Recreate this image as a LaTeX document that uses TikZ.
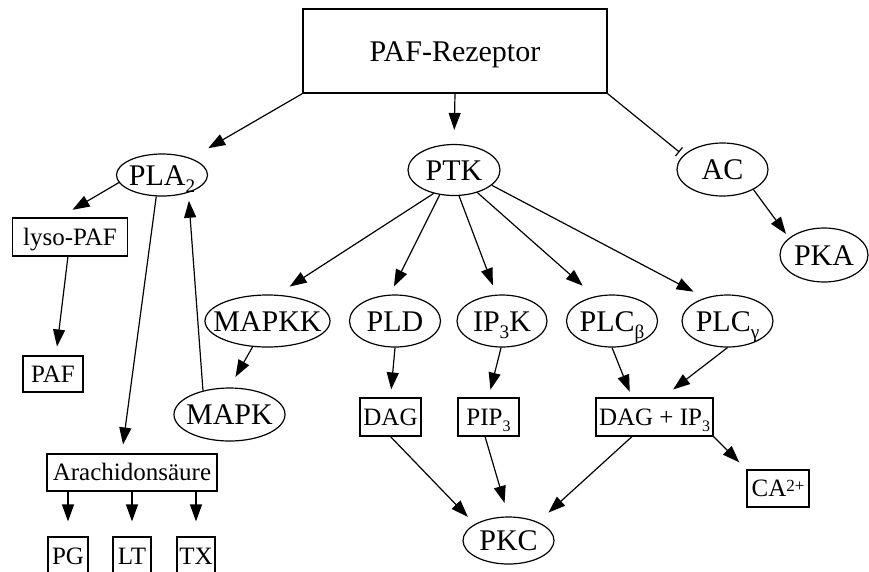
\documentclass[tikz,border=0pt]{standalone}
\usepackage{fontspec}
\setmainfont{Liberation Serif}
\usetikzlibrary{shapes.geometric,arrows.meta}

% lowered and raised indices set from the surrounding text font
\newcommand\lsub[1]{\raisebox{-0.25em}{\scalebox{0.64}{#1}}}
\newcommand\usup[1]{\raisebox{0.22em}{\scalebox{0.68}{#1}}}
% zero-width label so the ellipse keeps its own size
\newcommand\ztext[1]{\makebox[0pt]{#1}}

\tikzset{
  ell/.style={ellipse, draw, line width=1.2pt, inner sep=0pt,
    font=\fontsize{30}{36}\selectfont, text height=20pt, text depth=0pt},
  box/.style={rectangle, draw, line width=1.2pt, inner sep=0pt,
    font=\fontsize{25}{30}\selectfont, text height=16.5pt, text depth=0pt},
  edge/.style={line width=1.2pt, -{Triangle[length=17pt,width=12pt]}},
  inhib/.style={line width=1.2pt, -{Bar[width=11pt]}},
}

\begin{document}
\begin{tikzpicture}[x=1pt,y=-1pt]
\useasboundingbox (0,0) rectangle (869,571);
\clip (0,0) rectangle (869,571);

% receptor
\node[box, font=\fontsize{30}{36}\selectfont, text height=20pt,
      minimum width=304pt, minimum height=84pt] (rez) at (455,51) {PAF-Rezeptor};

% first level
\node[ell, minimum width=91pt, minimum height=42pt] (pla2) at (162,175) {\ztext{PLA\lsub{2}}};
\node[ell, minimum width=92pt, minimum height=51pt] (ptk) at (454,170) {\ztext{PTK}};
\node[ell, minimum width=91pt, minimum height=53pt] (ac) at (722.5,169.5) {\ztext{AC}};
\node[ell, minimum width=88pt, minimum height=54pt] (pka) at (824,255) {\ztext{PKA}};

% phospholipase A2 branch
\node[box, minimum width=115pt, minimum height=38pt] (lyso) at (70,237) {lyso-PAF};
\node[box, minimum width=60pt, minimum height=36pt] (paf) at (53,374) {PAF};
\node[ell, minimum width=111pt, minimum height=53pt] (mapk) at (229.5,414.5) {\ztext{MAPK}};
\node[box, minimum width=170pt, minimum height=37pt] (arach) at (132,472.5) {Arachidonsäure};
\node[box, minimum width=40pt, minimum height=38pt] (pg) at (68,556) {PG};
\node[box, minimum width=38pt, minimum height=38pt] (lt) at (132,556) {LT};
\node[box, minimum width=38pt, minimum height=38pt] (tx) at (196,556) {TX};

% tyrosine kinase branch
\node[ell, minimum width=125pt, minimum height=52pt] (mapkk) at (267.5,321) {\ztext{MAPKK}};
\node[ell, minimum width=91pt, minimum height=52pt] (pld) at (395,321) {\ztext{PLD}};
\node[ell, minimum width=90pt, minimum height=52pt] (ip3k) at (502,321) {\ztext{IP\lsub{3}K}};
\node[ell, minimum width=91pt, minimum height=52pt] (plcb) at (612,321) {\ztext{PLC\lsub{β}}};
\node[ell, minimum width=91pt, minimum height=52pt] (plcg) at (727.5,321) {\ztext{PLC\lsub{γ}}};

\node[box, minimum width=61pt, minimum height=38pt] (dag) at (390.5,417) {DAG};
\node[box, minimum width=61pt, minimum height=38pt] (pip3) at (488.5,417) {PIP\lsub{3}};
\node[box, minimum width=117pt, minimum height=38pt] (dagip3) at (654.5,417) {DAG + IP\lsub{3}};
\node[box, minimum width=62pt, minimum height=37pt] (ca) at (778,488.5) {CA\usup{2+}};
\node[ell, minimum width=91pt, minimum height=47pt] (pkc) at (508.5,540.5) {\ztext{PKC}};

% connectors
\draw[edge, shorten >=20pt] (rez.south west) -- (pla2);
\draw[edge, shorten >=14pt] (rez.south) -- (ptk.north);
\draw[inhib, shorten >=5pt] (rez.south east) -- (ac.160);
\draw[edge, shorten >=5pt] (ac.-33) -- (pka.154);

\draw[edge, shorten >=15pt] (pla2.190) -- (lyso.118);
\draw[edge, shorten >=9pt] (lyso.264) -- (paf.81);
\draw[edge, shorten >=9pt] (pla2.255) -- (arach.118);
\draw[edge, shorten >=8pt] (mapk.138) -- (pla2.-34);
\draw[edge, shorten >=15pt] (arach.south -| pg.north) -- (pg.north);
\draw[edge, shorten >=15pt] (arach.south -| lt.north) -- (lt.north);
\draw[edge, shorten >=15pt] (arach.south -| tx.north) -- (tx.north);

\draw[edge, shorten >=15pt] (ptk.229) -- (mapkk.70);
\draw[edge, shorten >=9pt] (ptk.240) -- (pld.101);
\draw[edge, shorten >=10pt] (ptk.281) -- (ip3k.102);
\draw[edge, shorten >=16pt] (ptk.316) -- (plcb.125);
\draw[edge, shorten >=13pt] (ptk.338) -- (plcg.134);
\draw[edge, shorten >=12pt] (mapkk.240) -- (mapk.north);

\draw[edge, shorten >=8pt] (pld.south) -- (dag.north);
\draw[edge, shorten >=8pt] (ip3k.268) -- (pip3.north);
\draw[edge, shorten >=6pt] (plcb.south) -- (dagip3.139);
\draw[edge, shorten >=13pt] (plcg.south) -- (dagip3.67);

\draw[edge, shorten >=10pt] (dag.south) -- (pkc.154);
\draw[edge, shorten >=14pt] (pip3.260) -- (pkc.north);
\draw[edge, shorten >=14pt] (dagip3.221) -- (pkc.32);
\draw[edge, shorten >=10pt] (dagip3.south east) -- (ca.north west);
\end{tikzpicture}
\end{document}
